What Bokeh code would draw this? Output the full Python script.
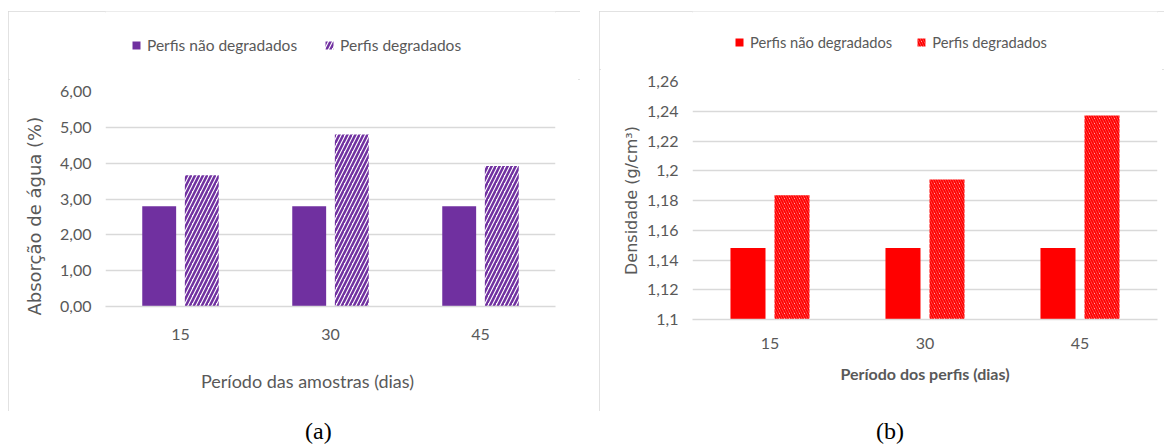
from bokeh.plotting import figure
from bokeh.models import FactorRange, Range1d, FixedTicker, Legend, LegendItem, ColumnDataSource, Div
from bokeh.transform import dodge
from bokeh.layouts import row, column
from bokeh.embed import file_html
from bokeh.resources import INLINE

# ---- data ----
periods = ["15", "30", "45"]
series_names = ["Perfis não degradados", "Perfis degradados"]

absorcao_nao_degradados = [2.80, 2.80, 2.80]
absorcao_degradados = [3.66, 4.80, 3.92]
absorcao_ticks = [0, 1, 2, 3, 4, 5, 6]
absorcao_tick_labels = ["0,00", "1,00", "2,00", "3,00", "4,00", "5,00", "6,00"]

densidade_nao_degradados = [1.148, 1.148, 1.148]
densidade_degradados = [1.1835, 1.1942, 1.2372]
densidade_ticks = [1.1, 1.12, 1.14, 1.16, 1.18, 1.2, 1.22, 1.24, 1.26]
densidade_tick_labels = ["1,1", "1,12", "1,14", "1,16", "1,18", "1,2", "1,22", "1,24", "1,26"]

FONT = "Lato"
GRID = "#d9d9d9"
TXT = "#595959"


def panel(width, head_h, mb, ylo, yhi, ticks, labels, solid, hatched, color,
          hatch, hscale, hweight, ytitle, ytitle_size, xtitle, xtitle_style,
          xtitle_size, leg_loc, leg_std, leg_spacing, leg_size,
          lbl_std_x, ttl_std_x, lbl_std_y, ttl_std_y):
    src = ColumnDataSource(dict(period=periods, solid=solid, hatched=hatched))

    # header strip that carries the legend
    h = figure(width=width, height=head_h, x_range=FactorRange(*periods),
               y_range=Range1d(0, 1), x_axis_type=None, y_axis_type=None,
               output_backend="svg", toolbar_location=None, min_border=0)
    h.outline_line_color = None
    h.xgrid.grid_line_color = None
    h.ygrid.grid_line_color = None
    h1 = h.vbar(x="period", top="solid", width=0.2, source=src,
                fill_color=color, line_color=None, visible=False)
    h2 = h.vbar(x="period", top="hatched", width=0.2, source=src,
                fill_color="white", line_color=None, hatch_pattern=hatch,
                hatch_color=color, hatch_scale=hscale, hatch_weight=hweight,
                visible=False)
    leg = Legend(items=[LegendItem(label=series_names[0], renderers=[h1]),
                        LegendItem(label=series_names[1], renderers=[h2])],
                 location=leg_loc, orientation="horizontal",
                 glyph_width=10, glyph_height=10, label_standoff=leg_std,
                 spacing=leg_spacing, padding=0, margin=0, border_line_color=None,
                 background_fill_alpha=0, inactive_fill_alpha=0,
                 label_text_font=FONT, label_text_font_size=leg_size,
                 label_text_color=TXT)
    h.add_layout(leg, "center")

    p = figure(width=width, height=400 - head_h, x_range=FactorRange(*periods),
               y_range=Range1d(ylo, yhi), output_backend="svg",
               toolbar_location=None, min_border_left=mb[0], min_border_right=mb[1],
               min_border_top=12, min_border_bottom=mb[2])
    p.outline_line_color = None
    p.vbar(x=dodge("period", -0.142, range=p.x_range), top="solid", width=0.226,
           source=src, fill_color=color, line_color=None)
    p.vbar(x=dodge("period", 0.142, range=p.x_range), top="hatched", width=0.226,
           source=src, fill_color="white", line_color=None,
           hatch_pattern=hatch, hatch_color=color, hatch_scale=hscale,
           hatch_weight=hweight)
    p.xgrid.grid_line_color = None
    p.ygrid.ticker = FixedTicker(ticks=ticks)
    p.ygrid.grid_line_color = GRID
    p.ygrid.grid_line_width = 1.5
    p.yaxis.ticker = FixedTicker(ticks=ticks)
    p.yaxis.major_label_overrides = dict(zip(ticks, labels))
    p.yaxis.axis_line_color = None
    p.yaxis.major_tick_line_color = None
    p.yaxis.minor_tick_line_color = None
    p.yaxis.major_label_text_font = FONT
    p.yaxis.major_label_text_font_size = "16px"
    p.yaxis.major_label_text_color = TXT
    p.yaxis.major_label_standoff = lbl_std_y
    p.yaxis.axis_label = ytitle
    p.yaxis.axis_label_text_font = "DejaVu Sans"
    p.yaxis.axis_label_text_font_size = ytitle_size
    p.yaxis.axis_label_text_font_style = "normal"
    p.yaxis.axis_label_text_color = TXT
    p.yaxis.axis_label_standoff = ttl_std_y
    p.xaxis.axis_line_color = GRID
    p.xaxis.axis_line_width = 1.5
    p.xaxis.major_tick_line_color = None
    p.xaxis.minor_tick_line_color = None
    p.xaxis.major_label_text_font = FONT
    p.xaxis.major_label_text_font_size = "16px"
    p.xaxis.major_label_text_color = TXT
    p.xaxis.major_label_standoff = lbl_std_x
    p.xaxis.axis_label = xtitle
    p.xaxis.axis_label_text_font = FONT
    p.xaxis.axis_label_text_font_size = xtitle_size
    p.xaxis.axis_label_text_font_style = xtitle_style
    p.xaxis.axis_label_text_color = TXT
    p.xaxis.axis_label_standoff = ttl_std_x

    box = column(h, p, spacing=0)
    box.styles = {"outline": "2px solid #d9d9d9", "outline-offset": "-2px"}
    return box


box_a = panel(572, 68, (97, 25, 105), 0, 6, absorcao_ticks, absorcao_tick_labels,
              absorcao_nao_degradados, absorcao_degradados, "#7030a0", "/", 8, 2.5,
              "Absorção de água (%)" + "\u00a0" * 6, "18px",
              "Período das amostras (dias)" + "\u00a0" * 10, "normal", "18px",
              (26, 25), 6, 27, "15.5px", 16, 27, 8, 12)

box_b = panel(565, 58, (93, 7, 92), 1.1, 1.26, densidade_ticks, densidade_tick_labels,
              densidade_nao_degradados, densidade_degradados, "#ff0000", "\\", 5, 2,
              "Densidade (g/cm³)", "16px",
              "Período dos perfis (dias)", "bold", "16px",
              (42, 18), 6, 24, "14.7px", 12, 12, 8, 3)

da = Div(text='<div style="position:relative;left:297px;top:3px;font-family:\'Liberation Serif\';font-size:24px;color:#000">(a)</div>',
         width=572, height=30, margin=0)
db = Div(text='<div style="position:relative;left:277px;top:3px;font-family:\'Liberation Serif\';font-size:24px;color:#000">(b)</div>',
         width=565, height=30, margin=0)

ca = column(box_a, da, spacing=0)
cb = column(box_b, db, spacing=0)
cb.margin = (0, 0, 0, 19)
layout = row(ca, cb, spacing=0)
layout.margin = (11, 0, 0, 8)

open("out.html", "w").write(file_html(layout, INLINE))
